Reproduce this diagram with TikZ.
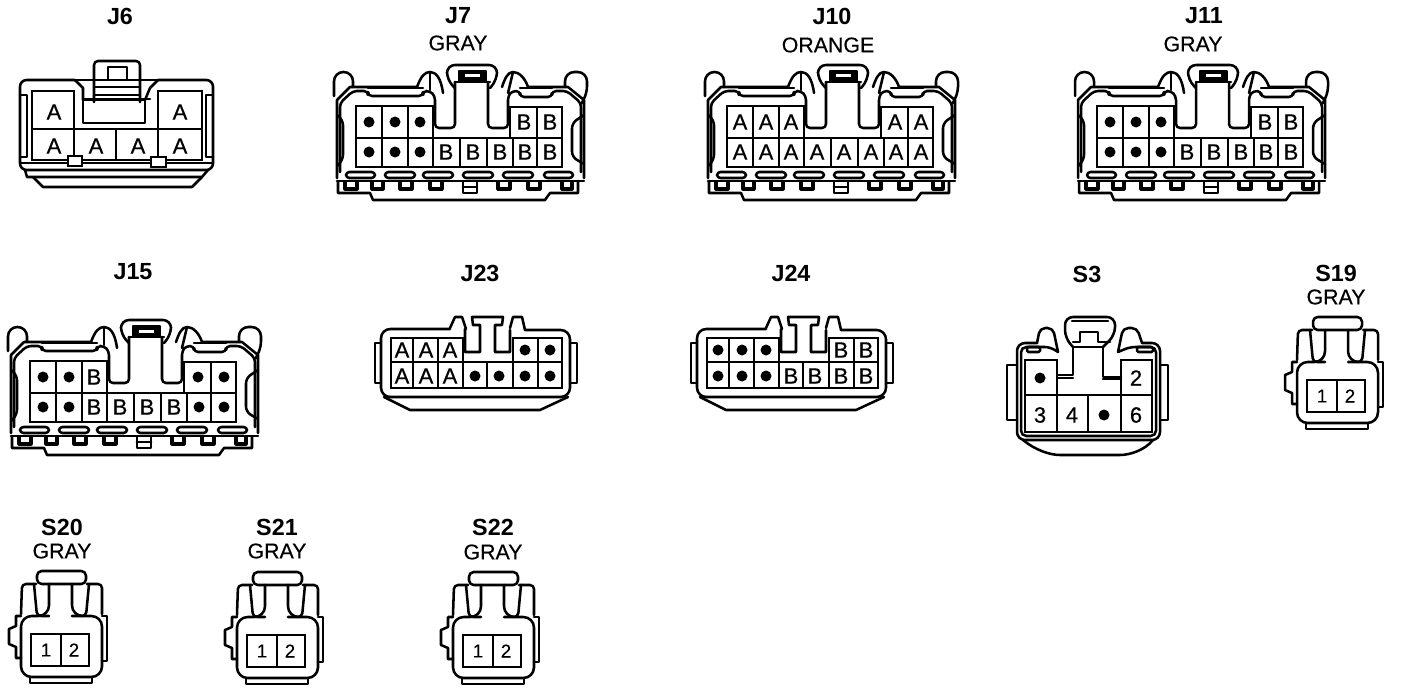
\documentclass[tikz,border=0pt]{standalone}
\usepackage{fontspec}
\setmainfont{Liberation Sans}
\newfontfamily\pinfont[FakeBold=0.6]{Liberation Sans}
\newfontfamily\subfont[FakeBold=0.3]{Liberation Sans}
\newcount\nodecnt
\tikzset{
  ln/.style={line width=1.9pt,line join=round,line cap=round},
  hv/.style={line width=2.1pt,line join=miter,line cap=rect},
  ttl/.style={font=\fontsize{17.5}{18}\selectfont\bfseries,inner sep=0pt,text=black},
  sub/.style={font=\subfont\fontsize{16}{17}\selectfont,inner sep=0pt,text=black},
  pin/.style={font=\pinfont\fontsize{16.5}{17}\selectfont,inner sep=0pt,text=black},
  smallpin/.style={font=\subfont\fontsize{14}{15}\selectfont,inner sep=0pt,text=black},
}
\newcommand{\pinat}[3]{\global\advance\nodecnt by 1
  \if#3.\fill (#1,#2) circle[radius=5.5];\else
  \node[pin] (p\the\nodecnt) at (#1,#2) {#3};\fi}
\newcommand{\lbl}[4]{\node[#1] (#2) at #3 {#4};}
% Large connector (J7 geometry)
\newcommand{\bigconn}[4]{%
\begin{scope}[shift={(#1,#2)}]
 \begin{scope}[ln]
 \draw[rounded corners=7] (334,96)--(334,72)--(353,72)--(353,87);
 \draw (337,178)--(337,100)--(350,87)--(417,87);
 \draw[rounded corners=3] (340,172)--(340,103)--(353,91)--(368,91)--(368,96)--(423,96)--(423,91)--(430,91)--(435,96)--(435,128)--(455,128)--(455,82);
 \draw (368,88)--(423,88);
 % middle ears
 \draw (417,87) .. controls (421,76) and (425,72) .. (430,72) .. controls (436,72) and (441,78) .. (443,93);
 \draw (430,72)--(430,90);
 \draw (502,87) .. controls (505,78) and (508,72) .. (513,72) .. controls (519,72) and (525,78) .. (528,87);
 \draw (513,72)--(508,93);
 % clip
 \draw[rounded corners=6] (455,88)--(447,80)--(447,65)--(497,65)--(497,80)--(490,88);
 \draw (455,82)--(490,82);
 \draw[fill=black] (459,71)--(486,71)--(486,81)--(459,81)--cycle;
 \fill[white] (465,74.5) rectangle (480,77.5);
 % right of slot
 \draw[rounded corners=3] (488,82)--(488,128)--(508,128)--(508,96)--(512,91)--(520,91)--(520,97)--(552,97)--(552,91)--(567,91)--(581,103)--(581,172);
 \draw (520,88)--(552,88);
 \draw (528,87)--(568,87)--(584,100)--(584,178);
 \draw[rounded corners=7] (565,87)--(565,72)--(587,72)--(587,96)--(584,100);
 % bumps
 \draw[rounded corners=4] (337,115)--(343,120)--(343,160)--(337,166);
 \draw[rounded corners=4] (584,115)--(572,123)--(572,157)--(584,164);
 % bottom
 \draw (337,181)--(584,181);
 \draw (338,181)--(338,193)--(370,193)--(373,200)--(545,200)--(550,193)--(578,193)--(578,181);
 \foreach \a/\b in {346/375,385/415,423/453,463/493,503/533,544/573}
   \draw[rounded corners=2.5] (\a,172) rectangle (\b,178);
 \foreach \a/\b in {345/357,372/383,400/412,430/442,498/510,528/540,562/572}
   \draw[line width=2.4pt] (\a,182)--(\a,189)--(\b,189)--(\b,182);
 \draw[line width=2.2pt] (463,182)--(463,193)--(477,193)--(477,182) (463,187)--(477,187);
 \end{scope}
 % grid
 \draw[hv] (356,106)--(433,106)--(433,138);
 \draw[hv] (510,138)--(510,107)--(562,107)--(562,167)--(356,167)--(356,106);
 \draw[hv] (356,138)--(562,138);
 \draw[hv] (382,106)--(382,167) (408,106)--(408,167) (537,107)--(537,167);
 \draw[hv] (433,138)--(433,167) (460,138)--(460,167) (487,138)--(487,167) (513,138)--(513,167);
 \def\pp##1##2##3##4##5{\pinat{369}{122}{##1}\pinat{395}{122}{##2}\pinat{420}{122}{##3}\pinat{524}{122}{##4}\pinat{550}{122}{##5}}
 \expandafter\pp#3
 \def\qq##1##2##3##4##5##6##7##8{\pinat{369}{152}{##1}\pinat{395}{152}{##2}\pinat{420}{152}{##3}\pinat{446}{152}{##4}\pinat{473}{152}{##5}\pinat{500}{152}{##6}\pinat{525}{152}{##7}\pinat{550}{152}{##8}}
 \expandafter\qq#4
\end{scope}}
% mid connector (J23 geometry)
\newcommand{\midconn}[4]{%
\begin{scope}[shift={(#1,#2)}]
 \begin{scope}[ln]
 \draw[rounded corners=7] (450,329)--(381,329)--(381,397)--(570,397)--(570,330)--(525,330);
 \draw (384,397)--(410,410)--(540,410)--(568,397);
 \draw (381,343)--(375,343)--(375,383)--(381,383) (570,343)--(577,343)--(577,383)--(570,383);
 \draw (465,329)--(465,352)--(480,352)--(480,325)--(473,325)--(472,317)--(503,317)--(502,325)--(495,325)--(495,352)--(510,352)--(510,330);
 \draw (450,328)--(455,317)--(462,317)--(466,329);
 \draw (510,328)--(513,317)--(522,317)--(525,330);
 \end{scope}
 \draw[hv] (391,338)--(463,338)--(463,362);
 \draw[hv] (513,362)--(513,338)--(562,338)--(562,388)--(391,388)--(391,338);
 \draw[hv] (391,362)--(562,362);
 \draw[hv] (413,338)--(413,388) (438,338)--(438,388) (538,338)--(538,388);
 \draw[hv] (463,362)--(463,388) (487,362)--(487,388) (513,362)--(513,388);
 \def\pp##1##2##3##4##5{\pinat{402}{350}{##1}\pinat{426}{350}{##2}\pinat{450}{350}{##3}\pinat{525}{350}{##4}\pinat{550}{350}{##5}}
 \expandafter\pp#3
 \def\qq##1##2##3##4##5##6##7{\pinat{402}{376}{##1}\pinat{426}{376}{##2}\pinat{450}{376}{##3}\pinat{475}{376}{##4}\pinat{499}{376}{##5}\pinat{525}{376}{##6}\pinat{550}{376}{##7}}
 \expandafter\qq#4
\end{scope}}
% small two-pin connector (S19 geometry)
\newcommand{\smallconn}[2]{%
\begin{scope}[shift={(#1,#2)}]
 \begin{scope}[ln]
 \draw[rounded corners=3.5] (1313,330) rectangle (1362,317);
 \draw[rounded corners=8] (1325,330)--(1325,362)--(1297,362)--(1297,423)--(1378,423)--(1378,362)--(1348,362)--(1348,330);
 \draw[rounded corners=3] (1312,330)--(1298,330)--(1297,360);
 \draw[rounded corners=3] (1310,330)--(1313,362)--(1325,362);
 \draw[rounded corners=3] (1363,330)--(1378,330)--(1378,360);
 \draw[rounded corners=3] (1365,330)--(1362,362)--(1348,362);
 \draw (1297,362)--(1292,362)--(1292,372)--(1285,375)--(1285,390)--(1292,393)--(1292,404)--(1297,404);
 \draw (1378,362)--(1383,362)--(1383,407)--(1378,407);
 \draw (1306,423)--(1306,429)--(1368,429)--(1368,423);
 \end{scope}
 \draw[hv] (1307,380) rectangle (1365,412) (1337,380)--(1337,412);
 \global\advance\nodecnt by 1
 \node[smallpin] (a\the\nodecnt) at (1322,396) {1};
 \node[smallpin] (b\the\nodecnt) at (1350,396) {2};
\end{scope}}
\begin{document}
\begin{tikzpicture}[x=.75pt,y=-.75pt]
\useasboundingbox (0,0) rectangle (1408,692);
\fill[white] (0,0) rectangle (1408,692);
% labels
\lbl{ttl}{lJ6}{(120,16)}{J6}
\lbl{ttl}{lJ7}{(458,16)}{J7}
\lbl{sub}{cJ7}{(458,43)}{GRAY}
\lbl{ttl}{lJ10}{(832,16)}{J10}
\lbl{sub}{cJ10}{(828,45)}{ORANGE}
\lbl{ttl}{lJ11}{(1204,16)}{J11}
\lbl{sub}{cJ11}{(1193,44)}{GRAY}
\lbl{ttl}{lJ15}{(133,272)}{J15}
\lbl{ttl}{lJ23}{(480,273)}{J23}
\lbl{ttl}{lJ24}{(791,273)}{J24}
\lbl{ttl}{lS3}{(1087,274)}{S3}
\lbl{ttl}{lS19}{(1336,273)}{S19}
\lbl{sub}{cS19}{(1336,297)}{GRAY}
\lbl{ttl}{lS20}{(62,527)}{S20}
\lbl{sub}{cS20}{(62,551)}{GRAY}
\lbl{ttl}{lS21}{(277,527)}{S21}
\lbl{sub}{cS21}{(277,551)}{GRAY}
\lbl{ttl}{lS22}{(493,527)}{S22}
\lbl{sub}{cS22}{(493,552)}{GRAY}
% J6
\begin{scope}[ln]
 \draw[rounded corners=5] (75,80)--(20,80)--(20,170)--(213,170)--(213,80)--(158,80);
 \draw (75,80)--(83,88)--(83,100) (158,80)--(150,88)--(145,100);
 \draw (83,123) rectangle (145,100);
 \draw[rounded corners=3] (94,102)--(94,61)--(140,61)--(140,102);
 \draw (108,80)--(108,67)--(127,67)--(127,80);
 \draw (75,80)--(158,80) (94,87)--(140,87) (94,95)--(140,95) (83,99)--(150,99);
 \draw (20,95)--(27,95)--(27,157)--(20,157) (213,95)--(206,95)--(206,157)--(213,157);
 \draw (25,170)--(27,177)--(202,177)--(208,170);
 \draw (33,177)--(43,187)--(192,187)--(202,177);
 \draw (21,163)--(68,163) (82,163)--(151,163) (166,163)--(212,163);
\end{scope}
\draw[hv] (32,91)--(74,91)--(74,129);
\draw[hv] (158,129)--(158,91)--(202,91)--(202,160)--(32,160)--(32,91);
\draw[hv] (32,129)--(202,129) (74,129)--(74,160) (116,129)--(116,160) (158,129)--(158,160);
\draw[hv,fill=white] (68,156) rectangle (82,166);
\draw[hv,fill=white] (151,157) rectangle (166,167);
\pinat{54}{112}{A}\pinat{180}{112}{A}\pinat{54}{146}{A}\pinat{96}{146}{A}\pinat{138}{146}{A}\pinat{180}{146}{A}
% large
\bigconn{0}{0}{{.}{.}{.}{B}{B}}{{.}{.}{.}{B}{B}{B}{B}{B}}
\bigconn{371}{0}{{A}{A}{A}{A}{A}}{{A}{A}{A}{A}{A}{A}{A}{A}}
\bigconn{741}{0}{{.}{.}{.}{B}{B}}{{.}{.}{.}{B}{B}{B}{B}{B}}
\bigconn{-326}{255}{{.}{.}{B}{.}{.}}{{.}{.}{B}{B}{B}{B}{.}{.}}
% mid
\midconn{0}{0}{{A}{A}{A}{.}{.}}{{A}{A}{A}{.}{.}{.}{.}}
\midconn{316}{0}{{.}{.}{.}{B}{B}}{{.}{.}{.}{B}{B}{B}{B}}
% S3
\begin{scope}[ln]
 \draw[rounded corners=6] (1037,343)--(1017,343)--(1017,440)--(1160,440)--(1160,343)--(1142,343);
 \draw[rounded corners=4] (1058,352)--(1050,347)--(1021,347)--(1021,436)--(1156,436)--(1156,347)--(1130,347)--(1118,352);
 \draw (1023,440) .. controls (1035,450) and (1050,455) .. (1060,455)--(1120,455) .. controls (1130,455) and (1145,450) .. (1153,440);
 \draw (1017,365)--(1007,365)--(1007,420)--(1017,420) (1160,365)--(1168,365)--(1168,420)--(1160,420);
 \draw[rounded corners=4] (1037,343)--(1040,328)--(1053,328)--(1058,352);
 \draw[rounded corners=4] (1118,352)--(1123,328)--(1137,328)--(1142,343);
 \draw (1058,375)--(1073,375)--(1073,347)--(1103,347)--(1103,377)--(1121,377);
 \draw (1058,378)--(1073,378) (1103,379)--(1121,379);
 \draw[rounded corners=6] (1073,347)--(1065,338)--(1065,317)--(1115,317)--(1115,335)--(1103,347);
 \draw (1072,321)--(1108,321);
 \draw (1073,342)--(1080,342)--(1080,332)--(1098,332)--(1098,342)--(1110,342);
 \draw[rounded corners=1] (1027,347) rectangle (1040,352);
 \draw[rounded corners=1] (1137,347) rectangle (1153,352);
\end{scope}
\draw[hv] (1025,360)--(1057,360)--(1057,395);
\draw[hv] (1121,395)--(1121,360)--(1152,360)--(1152,432)--(1025,432)--(1025,360);
\draw[hv] (1025,395)--(1152,395) (1057,395)--(1057,432) (1088,395)--(1088,432) (1121,395)--(1121,432);
\pinat{1040}{378}{.}\pinat{1136}{378}{2}\pinat{1040}{415}{3}\pinat{1072}{415}{4}\pinat{1104}{415}{.}\pinat{1136}{415}{6}
% small
\smallconn{0}{0}
\smallconn{-1276}{254}
\smallconn{-1060}{255}
\smallconn{-844}{255}
\end{tikzpicture}
\end{document}
